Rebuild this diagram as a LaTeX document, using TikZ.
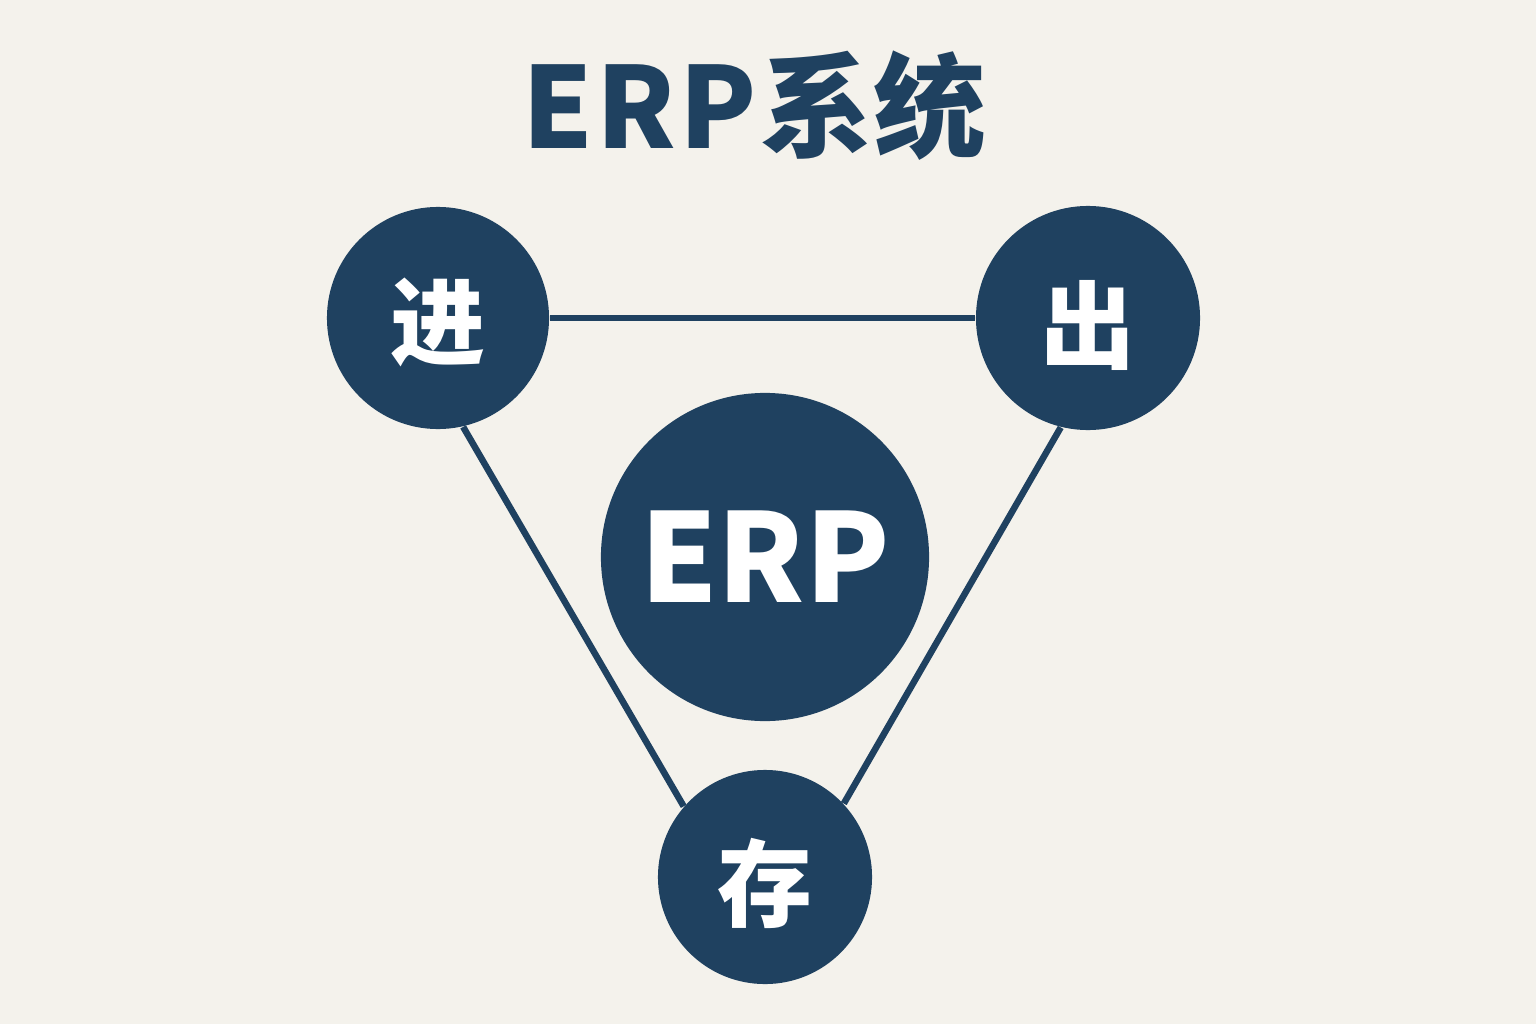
\documentclass[tikz,border=0pt]{standalone}
\usepackage{fontspec}
\newfontfamily\cjk{Noto Sans CJK SC}
\definecolor{bg}{HTML}{F4F2EC}
\definecolor{navy}{HTML}{1F4160}
\begin{document}
\begin{tikzpicture}[x=0.01cm,y=-0.01cm,
  hub/.style={circle,fill=navy,draw=none,text=white,inner sep=0pt},
  hublabel/.style={text=white,font=\cjk\bfseries\fontsize{27pt}{30pt}\selectfont},
  link/.style={draw=navy,line width=6.5*0.2845pt}]
\fill[bg] (0,0) rectangle (1536,1024);
\useasboundingbox (0,0) rectangle (1536,1024);
\node[text=navy,font=\cjk\bfseries\fontsize{32pt}{36pt}\selectfont] (title) at (754,106) {E\kern1pt R\kern1pt P\kern1pt 系统};
\node[hub,minimum size=222*0.2845pt,label={[hublabel,yshift=-1.2pt]center:进}] (jin) at (438,318) {};
\node[hub,minimum size=224*0.2845pt,label={[hublabel,yshift=-2pt]center:出}] (chu) at (1088,318) {};
\node[hub,minimum size=214*0.2845pt,label={[hublabel,yshift=-1.8pt]center:存}] (cun) at (765,877) {};
\node[hub,minimum size=328*0.2845pt,font=\cjk\bfseries\fontsize{35pt}{40pt}\selectfont] (erp) at (765,557) {ERP};
\draw[link] (jin) -- (chu);
\draw[link] (jin.-77) -- (cun.139);
\draw[link] (chu.-104) -- (cun.43);
\end{tikzpicture}
\end{document}
